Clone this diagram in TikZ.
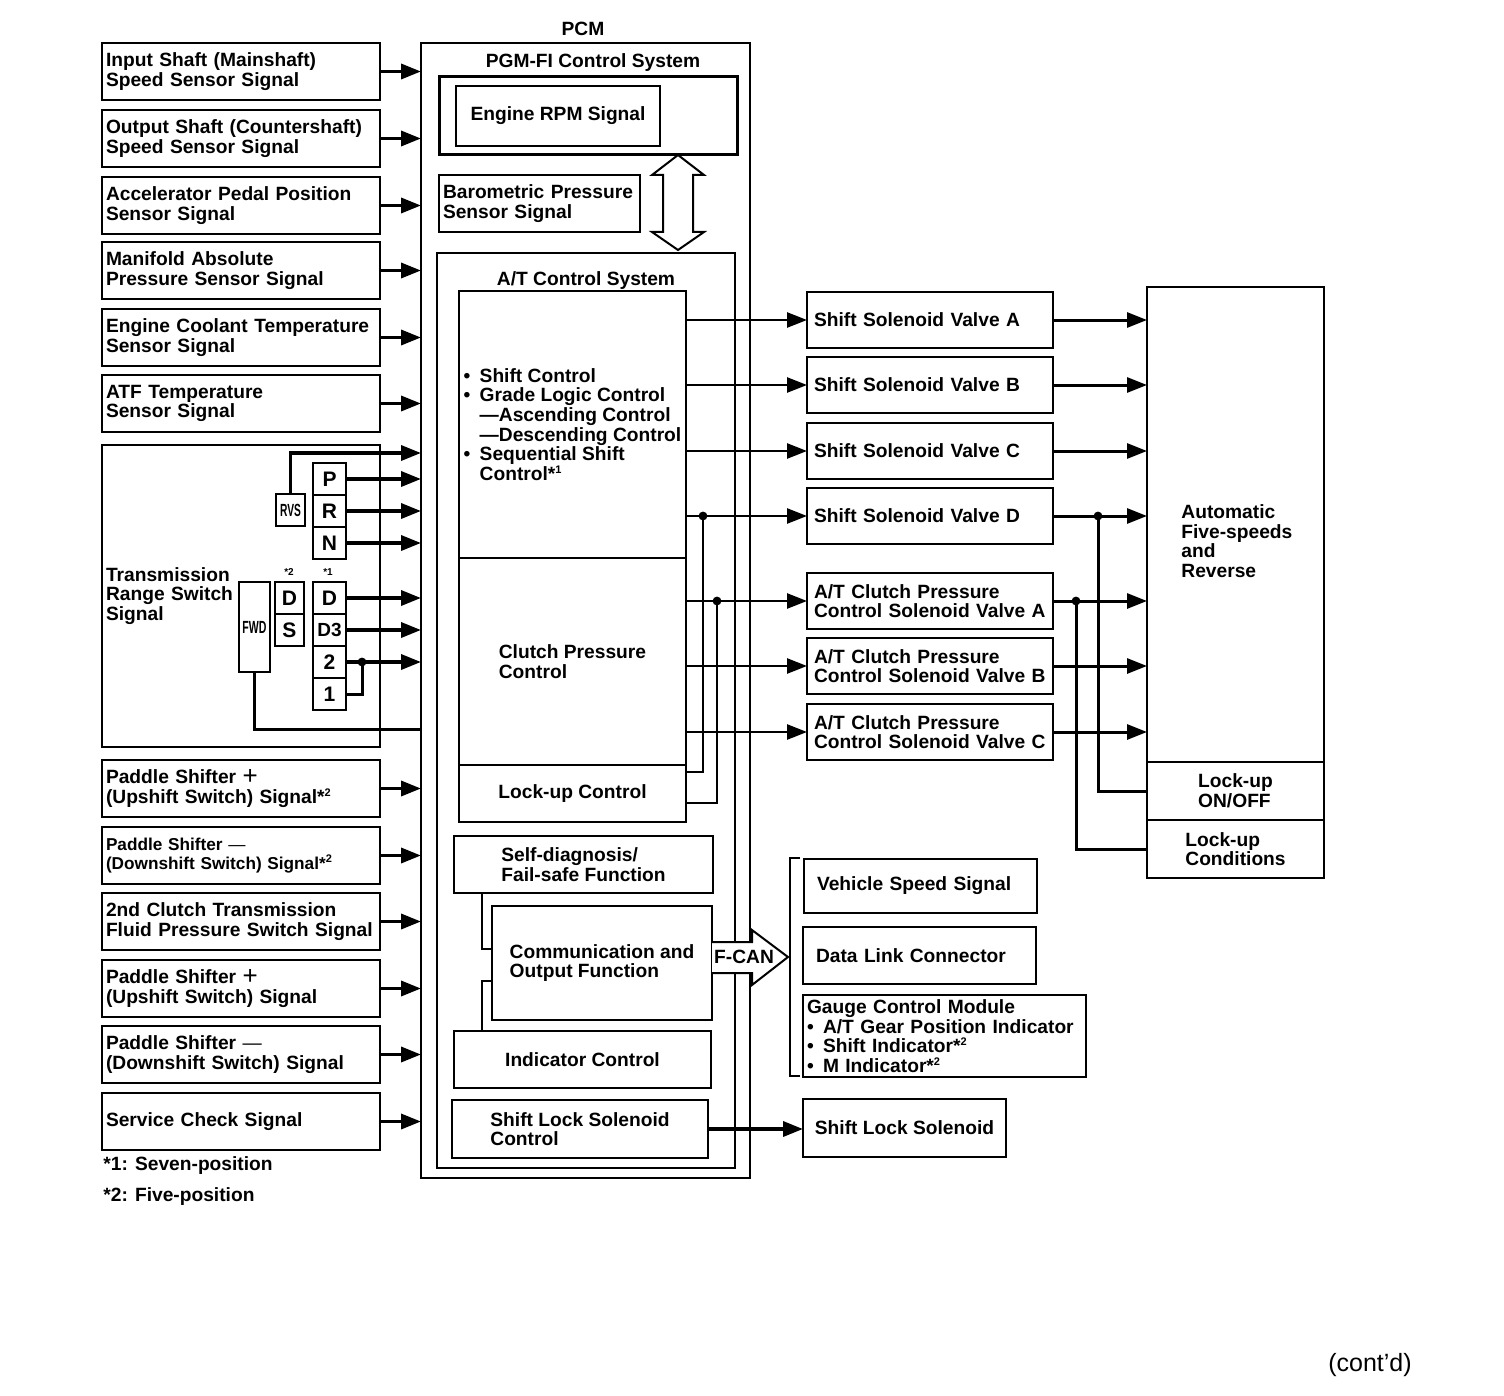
\documentclass[tikz,border=0pt]{standalone}
\usepackage{fontspec}
\setmainfont{Liberation Sans}
\usepackage{tikz}
\usetikzlibrary{arrows.meta, positioning}

\newcommand{\lab}{\fontsize{9.6}{9.8}\selectfont\bfseries}
\newcommand{\bul}{\makebox[8pt][l]{\textbullet}}
\newcommand{\sups}[1]{\raisebox{3.6pt}{\fontsize{5.5}{5.5}\selectfont #1}}
\newcommand{\plus}{\raisebox{-0.6pt}{\fontsize{13}{13}\selectfont\mdseries +}}

\begin{document}
\begin{tikzpicture}[x=0.5pt, y=-0.5pt, >={Triangle[length=10pt, width=7.5pt]},
    box/.style={rectangle, draw, line width=1pt, outer sep=0pt, font=\lab, align=left, anchor=north west, inner ysep=0pt},
    sig/.style={box, text width=135pt, inner xsep=2pt, minimum height=28.5pt},
    valve/.style={box, text width=116pt, inner xsep=3.5pt, minimum height=28pt},
    thinbox/.style={box, line width=0.6pt, inner xsep=1pt},
    fnbox/.style={box, line width=0.8pt},
    selpos/.style={rectangle, draw, line width=1pt, outer sep=0pt, minimum width=16.5pt, minimum height=16pt, inner sep=0pt, font=\fontsize{10.5}{10.5}\selectfont\bfseries},
    title/.style={font=\lab, inner sep=0pt},
    inarr/.style={->, line width=1.75pt},
    outarr/.style={->, line width=1.3pt},
    gararr/.style={->, line width=1.5pt},
    wire/.style={line width=1.5pt},
    thinwire/.style={line width=0.8pt}
  ]
  \useasboundingbox (0,0) rectangle (1504,1396);

  % Input signals
  \node[sig] (in1) at (102,43) {Input Shaft (Mainshaft)\\Speed Sensor Signal};
  \node[sig] (in2) at (102,110) {Output Shaft (Countershaft)\\Speed Sensor Signal};
  \node[sig] (in3) at (102,177) {Accelerator Pedal Position\\Sensor Signal};
  \node[sig] (in4) at (102,242) {Manifold Absolute\\Pressure Sensor Signal};
  \node[sig] (in5) at (102,309) {Engine Coolant Temperature\\Sensor Signal};
  \node[sig] (in6) at (102,375) {ATF Temperature\\Sensor Signal};
  \node[sig, minimum height=151pt] (trs) at (102,445) {Transmission\\Range Switch\\Signal};
  \node[sig] (in8) at (102,760) {Paddle Shifter \plus\\(Upshift Switch) Signal*\sups{2}};
  \node[sig, font=\fontsize{8.6}{9.8}\selectfont\bfseries] (in9) at (102,827) {Paddle Shifter {\mdseries —}\\(Downshift Switch) Signal*\sups{2}};
  \node[sig] (in10) at (102,893) {2nd Clutch Transmission\\Fluid Pressure Switch Signal};
  \node[sig] (in11) at (102,960) {Paddle Shifter \plus\\(Upshift Switch) Signal};
  \node[sig] (in12) at (102,1026) {Paddle Shifter {\mdseries —}\\(Downshift Switch) Signal};
  \node[sig] (in13) at (102,1093) {Service Check Signal};
  \node[title, anchor=west] (note1) at (103,1166) {*1: Seven-position};
  \node[title, anchor=west] (note2) at (103,1197) {*2: Five-position};

  % Range switch
  \node[selpos, anchor=north west] (swP) at (313,463) {P};
  \node[selpos, below=0pt of swP] (swR) {R};
  \node[selpos, below=0pt of swR] (swN) {N};
  \node[selpos, anchor=north west] (swD) at (313,582) {D};
  \node[selpos, below=0pt of swD, font=\fontsize{9.5}{9.5}\selectfont\bfseries] (swDiii) {D3};
  \node[selpos, below=0pt of swDiii] (swII) {2};
  \node[selpos, below=0pt of swII] (swI) {1};
  \node[selpos, anchor=north west, minimum width=14.5pt] (tsD) at (275,582) {D};
  \node[selpos, below=0pt of tsD, minimum width=14.5pt] (tsS) {S};
  \node[selpos, anchor=north west, minimum width=14.5pt] (rvs) at (276,494) {\fontsize{8.8}{8.8}\selectfont\scalebox{0.58}[1]{RVS}};
  \node[selpos, anchor=north west, minimum width=15.5pt, minimum height=45pt] (fwd) at (239,582) {\fontsize{8.8}{8.8}\selectfont\scalebox{0.6}[1]{FWD}};
  \node[title, font=\fontsize{5}{5}\selectfont\bfseries] (astII) at (289,572) {*2};
  \node[title, font=\fontsize{5}{5}\selectfont\bfseries] (astI) at (328,572) {*1};

  % PCM
  \node[title] (pcmt) at (583,29) {PCM};
  \node[box, minimum width=164.5pt, minimum height=567.5pt] (pcm) at (421,43) {};
  \node[title] (pgmt) at (593,63) {PGM-FI Control System};
  \node[box, line width=1.5pt, minimum width=149pt, minimum height=39pt] (pgm) at (439,77) {};
  \node[box, minimum width=102pt, minimum height=30pt, align=center] (rpm) at (456,86) {Engine RPM Signal};
  \node[box, text width=96.5pt, inner xsep=2pt, minimum height=28.5pt] (baro) at (439,175) {Barometric Pressure\\Sensor Signal};
  \node[box, minimum width=149pt, minimum height=457.5pt] (atc) at (437,253) {};
  \node[title] (att) at (586,281) {A/T Control System};
  \node[thinbox, minimum width=113.5pt, minimum height=133.5pt] (shiftctl) at (459,291)
    {\bul Shift Control\\\bul Grade Logic Control\\\hspace*{8pt}—Ascending Control\\\hspace*{8pt}—Descending Control\\\bul Sequential Shift\\\hspace*{8pt}Control*\sups{1}};
  \node[thinbox, minimum width=113.5pt, minimum height=103.5pt, below=0pt of shiftctl] (clutch) {Clutch Pressure\\Control};
  \node[thinbox, minimum width=113.5pt, minimum height=28.5pt, below=0pt of clutch] (lockup) {Lock-up Control};
  \node[fnbox, minimum width=129.5pt, minimum height=28.5pt] (selfd) at (454,836) {Self-diagnosis/\\Fail-safe Function};
  \node[fnbox, minimum width=110pt, minimum height=57pt] (comm) at (492,906) {Communication and\\Output Function};
  \node[fnbox, minimum width=128.5pt, minimum height=28.5pt] (indic) at (454,1031) {Indicator Control};
  \node[fnbox, minimum width=128pt, minimum height=29pt] (slctl) at (452,1100) {Shift Lock Solenoid\\Control};

  % Valves
  \node[valve] (ssvA) at (807,292) {Shift Solenoid Valve A};
  \node[valve] (ssvB) at (807,357) {Shift Solenoid Valve B};
  \node[valve] (ssvC) at (807,423) {Shift Solenoid Valve C};
  \node[valve] (ssvD) at (807,488) {Shift Solenoid Valve D};
  \node[valve] (cpA) at (807,573) {A/T Clutch Pressure\\Control Solenoid Valve A};
  \node[valve] (cpB) at (807,638) {A/T Clutch Pressure\\Control Solenoid Valve B};
  \node[valve] (cpC) at (807,704) {A/T Clutch Pressure\\Control Solenoid Valve C};

  % Transmission
  \node[box, minimum width=88.5pt, minimum height=237.5pt] (gear) at (1147,287) {};
  \node[title, align=left, anchor=west] (geart) at (1181,541) {Automatic\\Five-speeds\\and\\Reverse};
  \node[box, minimum width=88.5pt, minimum height=29pt, below=0pt of gear] (lockon) {Lock-up\\ON/OFF};
  \node[box, minimum width=88.5pt, minimum height=29pt, below=0pt of lockon] (lockcond) {Lock-up\\Conditions};

  % F-CAN units
  \node[box, text width=103.5pt, inner xsep=6.5pt, minimum height=27pt] (vss) at (804,859) {Vehicle Speed Signal};
  \node[box, text width=103.5pt, inner xsep=6.5pt, minimum height=28.5pt] (dlc) at (803,927) {Data Link Connector};
  \node[box, text width=137.5pt, inner xsep=2pt, minimum height=41pt] (gcm) at (803,995)
    {Gauge Control Module\\\bul A/T Gear Position Indicator\\\bul Shift Indicator*\sups{2}\\\bul M Indicator*\sups{2}};
  \node[box, minimum width=101.5pt, minimum height=29pt, align=center] (slsol) at (803,1099) {Shift Lock Solenoid};

  % Arrows
  \foreach \n in {in1,in2,in3,in4,in5,in6,in8,in9,in10,in11,in12,in13}
    \draw[inarr] (\n) -- (\n -| pcm.west);
  \draw[inarr] (rvs.north) |- (pcm.west |- 0,453);
  \foreach \n in {swP,swR,swN,swD,swDiii,swII}
    \draw[inarr] (\n) -- (\n -| pcm.west);
  \coordinate (jI) at (swII -| 362,0);
  \draw[wire] (swI) -| (jI);
  \fill (jI) circle (2.2pt);
  \draw[wire] (fwd) |- (pcm.west |- 0,729);

  \foreach \v in {ssvA,ssvB,ssvC,ssvD}
    \draw[outarr] (shiftctl.east |- \v) -- (\v);
  \foreach \v in {cpA,cpB,cpC}
    \draw[outarr] (clutch.east |- \v) -- (\v);
  \coordinate (jD) at (703,0 |- ssvD);
  \coordinate (jA) at (717,0 |- cpA);
  \draw[thinwire] (lockup.east |- 0,772) -| (jD);
  \draw[thinwire] (lockup.east |- 0,803) -| (jA);
  \fill (jD) circle (2.2pt);
  \fill (jA) circle (2.2pt);

  \foreach \v in {ssvA,ssvB,ssvC,ssvD,cpA,cpB,cpC}
    \draw[gararr] (\v) -- (\v -| gear.west);
  \coordinate (kD) at (1098,0 |- ssvD);
  \coordinate (kA) at (1076,0 |- cpA);
  \draw[wire] (kD) |- (lockon);
  \draw[wire] (kA) |- (lockcond);
  \fill (kD) circle (2.2pt);
  \fill (kA) circle (2.2pt);

  \draw[inarr] (slctl) -- (slctl -| slsol.west);

  \draw[thinwire] (482,0 |- selfd.south) |- (comm.west |- 0,949);
  \draw[thinwire] (comm.west |- 0,981) -| (482,0 |- indic.north);

  % Hollow arrows and bracket
  \draw[line width=1pt, fill=white] (678,155) -- (704,175) -- (693,175) -- (693,232) -- (704,232) -- (678,250)
    -- (652,232) -- (663,232) -- (663,175) -- (652,175) -- cycle;
  \draw[line width=1pt, fill=white] (712,942) -- (752,942) -- (752,930) -- (788,957) -- (752,985) -- (752,973) -- (712,973);
  \node[title] (fcan) at (744,957) {F-CAN};
  \draw[line width=1pt] (800,858) -- (790,858) -- (790,1076) -- (800,1076);

  \node[inner sep=0pt, font=\fontsize{12.5}{14}\selectfont] (contd) at (1370,1365) {(cont’d)};
\end{tikzpicture}
\end{document}
